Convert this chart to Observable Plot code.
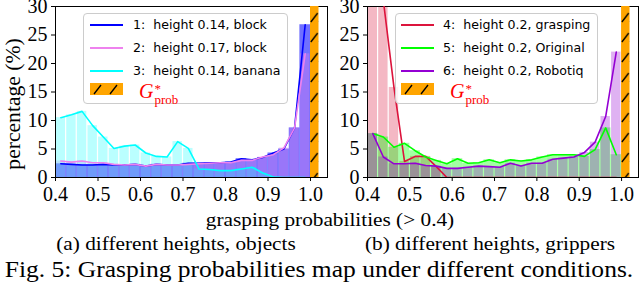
<!DOCTYPE html>
<html><head><meta charset="utf-8">
<script src="https://cdn.jsdelivr.net/npm/d3@7"></script>
<script src="https://cdn.jsdelivr.net/npm/@observablehq/plot@0.6"></script>
<style>
html,body{margin:0;padding:0;background:#fff;}
#wrap{position:relative;width:640px;height:285px;overflow:hidden;font-family:"Liberation Serif",serif;color:#000;}
.panel{position:absolute;top:0;}
.legend{position:absolute;box-sizing:border-box;border:1px solid #cccccc;border-radius:4px;background:rgba(255,255,255,0.8);font-family:"DejaVu Sans",sans-serif;font-size:12.6px;}
.legend .ln{position:absolute;height:2px;}
.legend .tx{position:absolute;white-space:pre;line-height:1;transform:translateY(-50%);}
.legend .sw{position:absolute;}
.g{position:absolute;color:#f00;font-family:"Liberation Serif",serif;white-space:nowrap;line-height:1;}
.abs{position:absolute;white-space:nowrap;line-height:1;}
</style>
</head><body>
<div id="wrap">
  <div id="pa" class="panel" style="left:0px"></div>
  <div id="pb" class="panel" style="left:330px"></div>
  <div class="abs" style="left:13px;top:104px;font-size:20px;transform:translate(-50%,-50%) rotate(-90deg) scaleX(1.08);">percentage (%)</div>
  <div class="abs" style="left:330px;top:219px;font-size:19px;transform:translate(-50%,-50%) scaleX(1.12);">grasping probabilities (&gt; 0.4)</div>
  <div class="abs" style="left:176px;top:243px;font-size:19px;transform:translate(-50%,-50%) scaleX(1.12);">(a) different heights, objects</div>
  <div class="abs" style="left:490px;top:243px;font-size:19px;transform:translate(-50%,-50%) scaleX(1.12);">(b) different heights, grippers</div>
  <div class="abs" style="left:319px;top:269px;font-size:23px;transform:translate(-50%,-50%) scaleX(1.11);">Fig. 5: Grasping probabilities map under different conditions.</div>
</div>
<script>
// ---- data ----
const binCenters = [0.4125,0.4375,0.4625,0.4875,0.5125,0.5375,0.5625,0.5875,0.6125,0.6375,0.6625,0.6875,
                    0.7125,0.7375,0.7625,0.7875,0.8125,0.8375,0.8625,0.8875,0.9125,0.9375,0.9625,0.9875];
const binWidth = 0.025;
const xTicks = [0.4,0.5,0.6,0.7,0.8,0.9,1.0];
const yTicks = [0,5,10,15,20,25,30];
const xDomain = [0.4,1.04];
const yDomain = [0,30];
const gRegion = [1.0,1.02];

const labelsA = ["1:  height 0.14, block","2:  height 0.17, block","3:  height 0.14, banana"];
const labelsB = ["4:  height 0.2, grasping","5:  height 0.2, Original","6:  height 0.2, Robotiq"];

const s1 = [2.4,2.3,2.2,2.2,2.3,2.2,2.2,2.3,2.0,2.3,2.2,2.2,2.5,2.5,2.6,2.6,2.7,3.3,3.1,3.5,4.3,5.0,8.7,26.8];
const s2 = [2.9,2.7,2.9,2.6,2.6,2.3,2.2,2.3,2.0,2.3,2.2,2.2,2.3,2.4,2.5,2.6,2.6,3.0,3.0,3.6,4.0,5.2,8.7,21.7];
const s3 = [10.5,11.0,11.6,9.1,7.1,5.1,5.5,5.7,4.3,3.7,3.6,6.3,5.1,1.5,1.4,1.2,1.2,1.5,1.8,0.8,0.1,0,0,0];
const s4 = [42,31,15.8,2.8,3.7,3.7,1.9,0,0,0,0,0,0,0,0,0,0,0,0,0,0,0,0,0];
const s5 = [7.7,7.1,5.3,6.0,4.7,3.6,3.0,2.4,3.3,2.5,2.6,3.1,2.6,3.1,2.9,3.1,3.6,4.0,4.0,4.0,3.7,4.9,8.7,4.0];
const s6 = [7.7,3.6,2.4,2.4,2.5,2.1,2.0,1.6,1.6,1.8,2.0,1.9,1.8,2.5,2.0,2.5,2.5,3.2,3.4,3.6,4.4,6.2,10.7,22.0];

const colors = {s1:"#0000ff", s2:"#ee82ee", s3:"#00ffff", s4:"#dc143c", s5:"#00ff00", s6:"#9400d3"};
const barAlpha = {s1:0.56, s2:0.33, s3:0.27, s4:0.3, s5:0.36, s6:0.3};

function rows(vals){ return vals.map((v,i)=>({x:binCenters[i], x1:binCenters[i]-binWidth/2, x2:binCenters[i]+binWidth/2, y0:0, y:v})); }

const ns = "http://www.w3.org/2000/svg";
function makePanel(series, lineOrder, id, width, marginLeft, marginRight){
  const height = 215, marginTop = 6, marginBottom = 38;
  const marks = [];
  for (const s of series) {
    marks.push(Plot.rect(rows(s.vals), {x1:"x1", x2:"x2", y1:"y0", y2:"y", fill:s.color, fillOpacity:s.alpha,
      insetLeft:s.gap?0.6:0, insetRight:s.gap?0.6:0, clip:true}));
  }
  marks.push(Plot.frame({stroke:"#000", strokeWidth:1}));
  for (const s of lineOrder) {
    marks.push(Plot.line(rows(s.vals), {x:"x", y:"y", stroke:s.color, strokeWidth:1.6, clip:true}));
  }
  marks.push(Plot.rect([{x1:gRegion[0], x2:gRegion[1], y1:yDomain[0], y2:yDomain[1]}],
    {x1:"x1", x2:"x2", y1:"y1", y2:"y2", fill:`url(#${id})`}));
  marks.push(Plot.axisX(xTicks, {tickFormat:d3.format(".1f"), tickSize:4, tickPadding:5, fontSize:20, fontFamily:"Liberation Serif", label:null}));
  marks.push(Plot.axisY(yTicks, {tickSize:4, tickPadding:4, fontSize:20, fontFamily:"Liberation Serif", label:null}));
  const p = Plot.plot({
    width, height, marginLeft, marginRight, marginTop, marginBottom,
    x:{domain:xDomain}, y:{domain:yDomain},
    style:{fontFamily:"Liberation Serif", fontSize:"20px", background:"transparent", color:"#000"},
    marks
  });
  // hatch pattern for the G*_prob region
  const xs = p.scale("x");
  const px1 = xs.apply(gRegion[0]), px2 = xs.apply(gRegion[1]);
  const w = px2 - px1;
  const defs = document.createElementNS(ns,"defs");
  const pat = document.createElementNS(ns,"pattern");
  pat.setAttribute("id", id);
  pat.setAttribute("patternUnits","userSpaceOnUse");
  pat.setAttribute("x", px1); pat.setAttribute("y", marginTop);
  pat.setAttribute("width", w); pat.setAttribute("height", 20);
  const r = document.createElementNS(ns,"rect");
  r.setAttribute("width", w); r.setAttribute("height", 20); r.setAttribute("fill","#ffa500");
  pat.appendChild(r);
  const l = document.createElementNS(ns,"line");
  l.setAttribute("x1", 0.8); l.setAttribute("y1", 16); l.setAttribute("x2", w-0.8); l.setAttribute("y2", 7);
  l.setAttribute("stroke","#000"); l.setAttribute("stroke-width","1.3");
  pat.appendChild(l);
  defs.appendChild(pat);
  p.insertBefore(defs, p.firstChild);
  return p;
}

const A1 = {vals:s1, color:colors.s1, alpha:barAlpha.s1, gap:false};
const A2 = {vals:s2, color:colors.s2, alpha:barAlpha.s2, gap:true};
const A3 = {vals:s3, color:colors.s3, alpha:barAlpha.s3, gap:true};
const B4 = {vals:s4, color:colors.s4, alpha:barAlpha.s4, gap:true};
const B5 = {vals:s5, color:colors.s5, alpha:barAlpha.s5, gap:false};
const B6 = {vals:s6, color:colors.s6, alpha:barAlpha.s6, gap:true};

document.getElementById("pa").appendChild(makePanel([A1, A2, A3], [A1, A2, A3], "hatchA", 330, 55, 3));
document.getElementById("pb").appendChild(makePanel([B4, B5, B6], [B4, B5, B6], "hatchB", 310, 37, 2));

// ---- legends (HTML) ----
function swatchSVG(){
  return `<svg width="33" height="12" style="display:block"><rect width="33" height="12" fill="#ffa500"/>
  <line x1="4" y1="11" x2="11" y2="2" stroke="#000" stroke-width="1.3"/><line x1="20" y1="11" x2="27" y2="2" stroke="#000" stroke-width="1.3"/></svg>`;
}
function legend(left, width, labels, cols, lineLeft, textLeft, gLeft){
  const d = document.createElement("div");
  d.className = "legend";
  d.style.left = left+"px"; d.style.top = "13px"; d.style.width = width+"px"; d.style.height = "91px";
  const ys = [10.5, 33.5, 56.5];
  let html = "";
  labels.forEach((t,i)=>{
    html += `<div class="ln" style="left:${lineLeft}px;top:${ys[i]-1}px;width:33px;background:${cols[i]}"></div>`;
    html += `<div class="tx" style="left:${textLeft}px;top:${ys[i]}px">${t}</div>`;
  });
  html += `<div class="sw" style="left:${lineLeft}px;top:69px">${swatchSVG()}</div>`;
  html += `<span class="g" style="left:${gLeft}px;top:67px;font-size:20px;"><i>G</i><span style="display:inline-block;vertical-align:-6px;font-size:13px;line-height:11px;margin-left:1px;">*<br>prob</span></span>`;
  d.innerHTML = html;
  document.getElementById("wrap").appendChild(d);
}
legend(83, 205, labelsA, [colors.s1, colors.s2, colors.s3], 6, 49, 55);
legend(395, 203, labelsB, [colors.s4, colors.s5, colors.s6], 5, 47, 54);
</script>
</body></html>
